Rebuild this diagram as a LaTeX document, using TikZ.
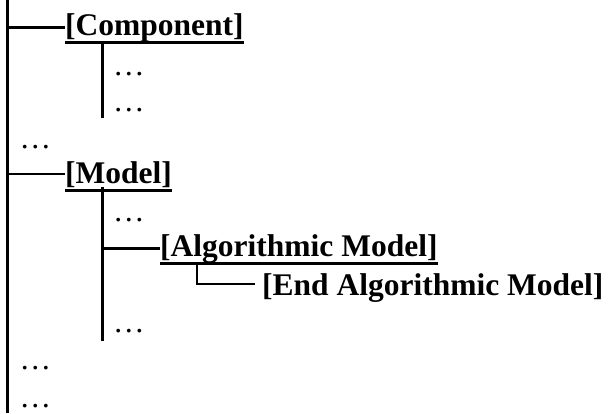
\documentclass[tikz,border=0pt]{standalone}
\usepackage{fontspec}
\setmainfont{Liberation Serif}
\usepackage{tikz}
\usetikzlibrary{positioning, calc}

\begin{document}
\begin{tikzpicture}[x=1pt, y=-1pt,
            tag/.style={inner sep=0pt, anchor=base west,
                        font=\fontsize{31.5}{32}\selectfont\bfseries},
            more/.style={inner sep=0pt, anchor=base west,
                        font=\fontsize{31.5}{32}\selectfont},
            trunk/.style={line width=3pt},
            twig/.style={line width=2.2pt},
            uline/.style={line width=3pt}
          ]
          \useasboundingbox (0,0) rectangle (608,413);
          \coordinate (root) at (7.5,0);
          \coordinate (tip)  at (7.5,413);
          \coordinate (sub1) at (102,118);
          \coordinate (sub2) at (102,341);
          \coordinate (sub3) at (197,284);

          \node[tag]  (comp)   at (65,35)    {[Component]};
          \node[more] (dots1)  at (113,75)   {\ldots};
          \node[more] (dots2)  at (113,111)  {\ldots};
          \node[more] (dots3)  at (19.5,148) {\ldots};
          \node[tag]  (model)  at (65,183)   {[Model]};
          \node[more] (dots4)  at (113,221.5) {\ldots};
          \node[tag]  (algo)   at (160,256)  {[Algorithmic Model]};
          \node[tag]  (endalgo) at (262,295) {[End Algorithmic Model]};
          \node[more] (dots5)  at (113,332.5) {\ldots};
          \node[more] (dots6)  at (19.5,369.5) {\ldots};
          \node[more] (dots7)  at (19.5,407.5) {\ldots};

          % underlines
          \foreach \n in {comp, model, algo}
            \draw[uline] ([yshift=-7pt]\n.base west) -- ([yshift=-7pt]\n.base east);

          % tree lines
          \draw[trunk] (root) -- (tip);
          \draw[twig] (root |- comp.west)  -- (comp.west);
          \draw[twig] (root |- model.west) -- (model.west);
          \draw[trunk] (sub1 |- comp.south)  -- (sub1);
          \draw[trunk] (sub2 |- model.south) -- (sub2);
          \draw[twig] (sub2 |- algo.west) -- (algo.west);
          \draw[line width=2pt] (sub3 |- algo.south) -- (sub3)
                -- ([xshift=-7pt]sub3 -| endalgo.west);
        \end{tikzpicture}
\end{document}
